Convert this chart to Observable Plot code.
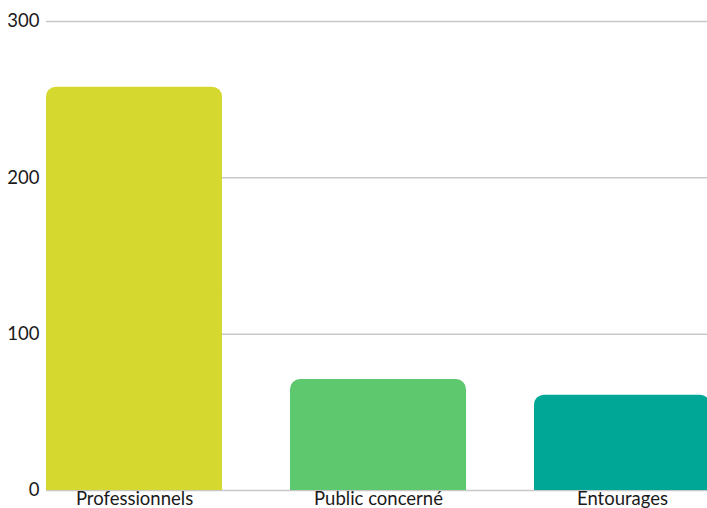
<!DOCTYPE html>
<html>
<head>
<meta charset="utf-8">
<script src="https://cdn.jsdelivr.net/npm/d3@7"></script>
<script src="https://cdn.jsdelivr.net/npm/@observablehq/plot@0.6"></script>
<style>
  html, body { margin: 0; padding: 0; background: #fff; }
  #chart svg { display: block; }
</style>
</head>
<body>
<div id="chart"></div>
<script>
const categories = ["Professionnels", "Public concerné", "Entourages"];
const values = [258, 71, 61];
const colors = ["#D5D82F", "#5EC86F", "#00A797"];
const yTicks = [0, 100, 200, 300];

const data = categories.map((c, i) => ({category: c, value: values[i], color: colors[i]}));

const chart = Plot.plot({
  width: 707,
  height: 508,
  marginLeft: 46,
  marginRight: 0,
  marginTop: 21,
  marginBottom: 18,
  style: {fontFamily: "Lato, sans-serif", fontSize: "18px", color: "#1a1a1a", background: "#fff"},
  x: {domain: categories, range: [46, 710], paddingInner: 0.28, paddingOuter: 0, label: null},
  y: {domain: [0, 300], ticks: yTicks, label: null},
  marks: [
    Plot.ruleY(yTicks, {stroke: "#c8c8c8", strokeWidth: 1.5}),
    Plot.barY(data, {x: "category", y: "value", fill: "color", rx: 10}),
    Plot.barY(data, {x: "category", y1: 0, y2: d => d.value / 2, fill: "color"}),
    Plot.axisY({ticks: yTicks, tickSize: 0, tickPadding: 7, fontSize: 18.5, label: null}),
    Plot.axisX({tickSize: 0, tickPadding: 1, fontSize: 18.5, label: null})
  ]
});
document.getElementById("chart").appendChild(chart);
</script>
</body>
</html>
